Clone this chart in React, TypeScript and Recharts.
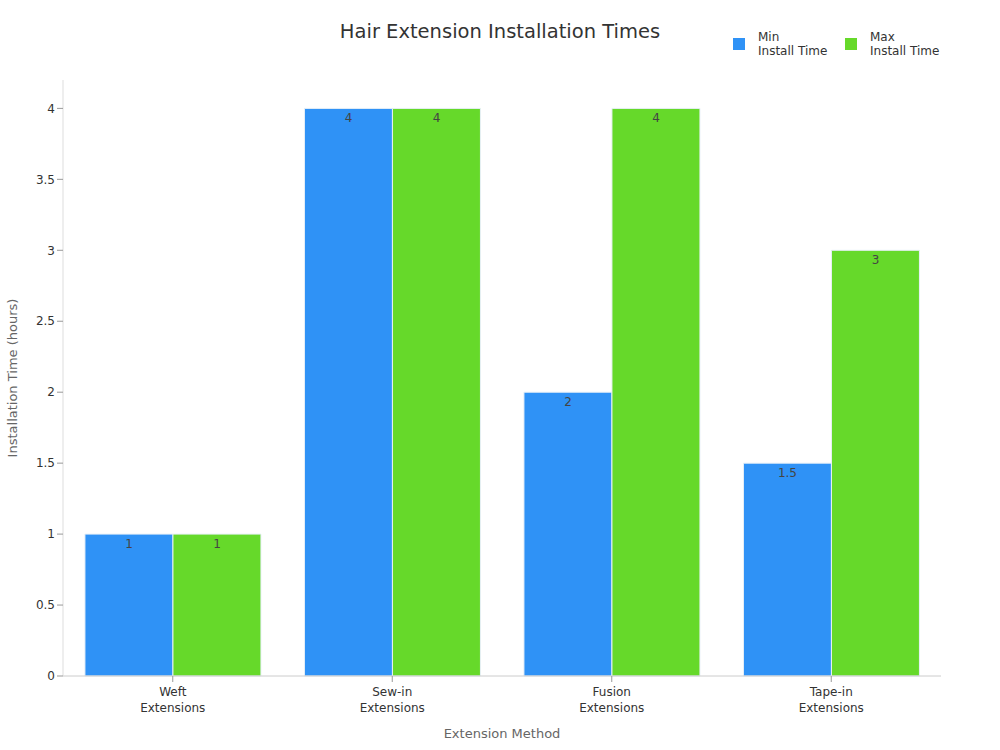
import { BarChart, Bar, XAxis, YAxis, LabelList, Label } from "recharts"

const categories = ["Weft Extensions", "Sew-in Extensions", "Fusion Extensions", "Tape-in Extensions"]
const minTimes = [1, 4, 2, 1.5]
const maxTimes = [1, 4, 4, 3]
const yTicks = [0, 0.5, 1, 1.5, 2, 2.5, 3, 3.5, 4]

const BLUE = "#2f92f6"
const GREEN = "#66d92a"
const FONT = "DejaVu Sans, sans-serif"

const data = categories.map((name, i) => ({ name, min: minTimes[i], max: maxTimes[i] }))

function CategoryTick(props: any) {
  const { x, y, payload } = props
  const words = String(payload.value).split(" ")
  return (
    <g transform={`translate(${x},${y})`}>
      <text textAnchor="middle" fill="#333" fontSize={12} fontFamily={FONT}>
        {words.map((w, i) => (
          <tspan key={i} x={0} dy={i === 0 ? 12 : 16}>
            {w}
          </tspan>
        ))}
      </text>
    </g>
  )
}

function TopLegend() {
  const items = [
    { color: BLUE, line1: "Min", line2: "Install Time", x: 733 },
    { color: GREEN, line1: "Max", line2: "Install Time", x: 845 },
  ]
  return (
    <div style={{ position: "absolute", left: 0, top: 0, width: 1000, height: 70, pointerEvents: "none" }}>
      {items.map((it) => (
        <div key={it.line1} style={{ position: "absolute", left: it.x, top: 30 }}>
          <div style={{ position: "absolute", left: 0, top: 8, width: 12, height: 12, background: it.color }} />
          <div style={{ position: "absolute", left: 25, top: 0, fontFamily: FONT, fontSize: 12, color: "#333", lineHeight: "14px", whiteSpace: "nowrap" }}>
            {it.line1}
            <br />
            {it.line2}
          </div>
        </div>
      ))}
    </div>
  )
}

export default function App() {
  return (
    <div style={{ position: "absolute", left: 0, top: 0, width: 1000, height: 750, background: "#fff" }}>
      <div style={{ position: "absolute", top: 20, left: 0, width: 1000, textAlign: "center", fontFamily: FONT, fontSize: 19.5, color: "#333" }}>
        Hair Extension Installation Times
      </div>
      <TopLegend />
      <BarChart
        width={1000}
        height={750}
        data={data}
        margin={{ top: 80, right: 59, bottom: 24, left: 0 }}
        barCategoryGap="10%"
        barGap={0}
      >
        <XAxis
          dataKey="name"
          tick={<CategoryTick />}
          height={50}
          interval={0}
          stroke="#ccc"
          tickLine={{ stroke: "#999" }}
          tickSize={6}
        >
          <Label value="Extension Method" position="insideBottom" offset={-12} fill="#666" fontSize={13} fontFamily={FONT} />
        </XAxis>
        <YAxis
          width={63}
          domain={[0, 4.2]}
          ticks={yTicks}
          stroke="#ddd"
          tickLine={{ stroke: "#999" }}
          tick={{ fill: "#333", fontSize: 12, fontFamily: FONT }}
          tickSize={6}
        >
          <Label value="Installation Time (hours)" angle={-90} position="insideLeft" offset={12} style={{ textAnchor: "middle" }} fill="#666" fontSize={13} fontFamily={FONT} />
        </YAxis>
        <Bar dataKey="min" name="Min Install Time" fill={BLUE} stroke="#e8f0f8" strokeWidth={1} isAnimationActive={false}>
          <LabelList dataKey="min" position="insideTop" fill="#444" fontSize={12} fontFamily={FONT} offset={5} />
        </Bar>
        <Bar dataKey="max" name="Max Install Time" fill={GREEN} stroke="#e8f0f8" strokeWidth={1} isAnimationActive={false}>
          <LabelList dataKey="max" position="insideTop" fill="#444" fontSize={12} fontFamily={FONT} offset={5} />
        </Bar>
      </BarChart>
    </div>
  )
}
